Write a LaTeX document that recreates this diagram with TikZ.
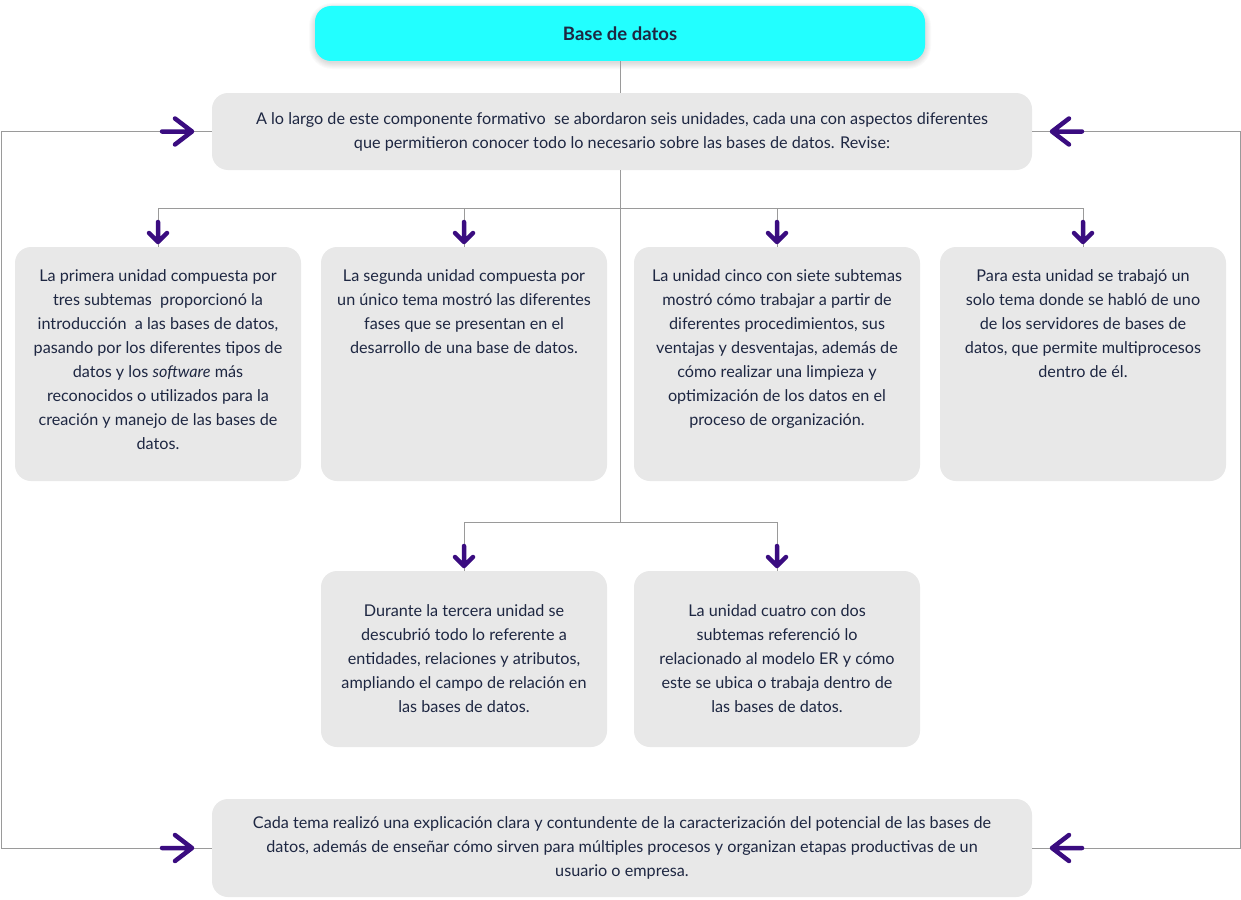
\documentclass[tikz,border=0pt]{standalone}
\usepackage{fontspec}
\setmainfont{Lato}
\definecolor{cyanbox}{HTML}{22FFFF}
\definecolor{boxgray}{HTML}{E8E8E8}
\definecolor{linegray}{HTML}{9A9A9A}
\definecolor{purp}{HTML}{3A0C80}
\definecolor{navy}{HTML}{1E2742}
\begin{document}
\begin{tikzpicture}[x=1pt,y=-1pt,
  box/.style={fill=boxgray, draw=none, rounded corners=16pt, inner sep=0pt, minimum width=286pt},
  txt/.style={font=\fontsize{16.2}{24}\selectfont, text=navy, align=center, inner sep=0pt},
  conn/.style={draw=linegray, line width=1pt},
  parr/.style={draw=purp, line width=4.5pt, line cap=round, line join=round},
  rarrow/.pic={\draw[parr] (-15,0) -- (15,0) (-2,-13) -- (15,0) -- (-2,13);},
  larrow/.pic={\draw[parr] (15,0) -- (-15,0) (2,-13) -- (-15,0) -- (2,13);},
  darrow/.pic={\draw[parr] (0,-10) -- (0,10) (-9,1) -- (0,10) -- (9,1);}
]
\useasboundingbox (0,0) rectangle (1241,899);
\fill[white] (0,0) rectangle (1241,899);

% soft shadow of the title box
\foreach \i in {1,...,7}{
  \fill[black, opacity=0.018, rounded corners={16pt+\i pt}]
    (315-\i+1, 6-\i+4) rectangle (925+\i-1, 61+\i+1);
}

% boxes
\node[fill=cyanbox, rounded corners=16pt, inner sep=0pt, minimum width=610pt, minimum height=55pt,
  font=\fontsize{18.5}{22}\selectfont\bfseries, text=navy] (top) at (620,33.5) {Base de datos};

\node[box, minimum width=820pt, minimum height=77pt, txt] (intro) at (622,131.5)
  {A lo largo de este componente formativo\ \ se abordaron seis unidades, cada una con aspectos diferentes\\
   que permitieron conocer todo lo necesario sobre las bases de datos. Revise:};

\node[box, minimum height=234pt] (b1) at (158,364) {};
\node[box, minimum height=234pt] (b2) at (464,364) {};
\node[box, minimum height=234pt] (b5) at (777,364) {};
\node[box, minimum height=234pt] (b6) at (1083,364) {};
\node[box, minimum height=176pt, txt] (b3) at (464,659)
  {Durante la tercera unidad se\\ descubrió todo lo referente a\\ entidades, relaciones y atributos,\\
   ampliando el campo de relación en\\ las bases de datos.};
\node[box, minimum height=176pt, txt] (b4) at (777,659)
  {La unidad cuatro con dos\\ subtemas referenció lo\\ relacionado al modelo ER y cómo\\
   este se ubica o trabaja dentro de\\ las bases de datos.};
\node[box, minimum width=820pt, minimum height=98pt, txt] (bottom) at (622,848)
  {Cada tema realizó una explicación clara y contundente de la caracterización del potencial de las bases de\\
   datos, además de enseñar cómo sirven para múltiples procesos y organizan etapas productivas de un\\
   usuario o empresa.};

% top-aligned texts
\node[txt, anchor=north] (t1) at ([yshift=-23pt]b1.north)
  {La primera unidad compuesta por\\ tres subtemas\ \ proporcionó la\\ introducción\ \ a las bases de datos,\\
   pasando por los diferentes tipos de\\ datos y los \textit{software} más\\ reconocidos o utilizados para la\\
   creación y manejo de las bases de\\ datos.};
\node[txt, anchor=north] (t2) at ([yshift=-23pt]b2.north)
  {La segunda unidad compuesta por\\ un único tema mostró las diferentes\\ fases que se presentan en el\\
   desarrollo de una base de datos.};
\node[txt, anchor=north] (t5) at ([yshift=-23pt]b5.north)
  {La unidad cinco con siete subtemas\\ mostró cómo trabajar a partir de\\ diferentes procedimientos, sus\\
   ventajas y desventajas, además de\\ cómo realizar una limpieza y\\ optimización de los datos en el\\
   proceso de organización.};
\node[txt, anchor=north] (t6) at ([yshift=-23pt]b6.north)
  {Para esta unidad se trabajó un\\ solo tema donde se habló de uno\\ de los servidores de bases de\\
   datos, que permite multiprocesos\\ dentro de él.};

% junctions
\coordinate (j1) at (620,208);
\coordinate (j2) at (620,522);
\coordinate (lx) at (1,0);
\coordinate (rx) at (1240,0);

% connectors
\draw[conn] (top.south) -- (top.south |- intro.north);
\draw[conn] (top.south |- intro.south) -- (j2);
\draw[conn] (b1.north) -- (b1.north |- j1) -- (b6.north |- j1) -- (b6.north);
\draw[conn] (b2.north) -- (b2.north |- j1);
\draw[conn] (b5.north) -- (b5.north |- j1);
\draw[conn] (b3.north) -- (b3.north |- j2) -- (b4.north |- j2) -- (b4.north);
\draw[conn] (intro.west) -- (intro.west -| lx) -- (bottom.west -| lx) -- (bottom.west);
\draw[conn] (intro.east) -- (intro.east -| rx) -- (bottom.east -| rx) -- (bottom.east);

% arrow icons
\pic at (177,131.5) {rarrow};
\pic at (177,848) {rarrow};
\pic at (1067,131.5) {larrow};
\pic at (1067,848) {larrow};
\pic at (158,232) {darrow};
\pic at (464,232) {darrow};
\pic at (777,232) {darrow};
\pic at (1083,232) {darrow};
\pic at (464,556) {darrow};
\pic at (777,556) {darrow};
\end{tikzpicture}
\end{document}
